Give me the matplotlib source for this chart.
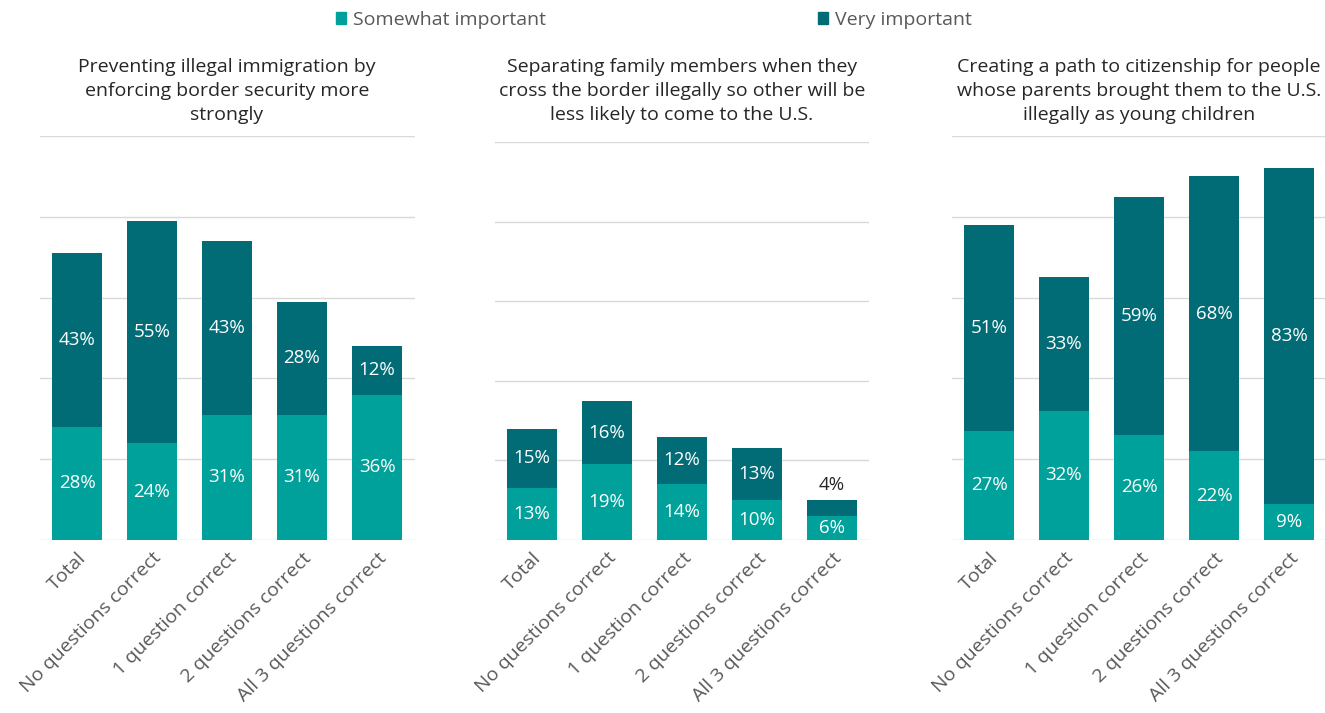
import matplotlib
matplotlib.use("Agg")
import matplotlib.pyplot as plt
from matplotlib.patches import Rectangle

plt.rcParams["font.family"] = ["Open Sans", "DejaVu Sans"]

SOMEWHAT_C = "#00a19a"
VERY_C = "#016c75"
GRID_C = "#d9d9d9"
TICK_C = "#595959"
FS = 14
VAL_FS = 13.5

groups = ["Total", "No questions correct", "1 question correct",
          "2 questions correct", "All 3 questions correct"]

titles = [
    "Preventing illegal immigration by\nenforcing border security more\nstrongly",
    "Separating family members when they\ncross the border illegally so other will be\nless likely to come to the U.S.",
    "Creating a path to citizenship for people\nwhose parents brought them to the U.S.\nillegally as young children",
]

border_somewhat = [28, 24, 31, 31, 36]
border_very = [43, 55, 43, 28, 12]
separating_somewhat = [13, 19, 14, 10, 6]
separating_very = [15, 16, 12, 13, 4]
citizenship_somewhat = [27, 32, 26, 22, 9]
citizenship_very = [51, 33, 59, 68, 83]

somewhat = [border_somewhat, separating_somewhat, citizenship_somewhat]
very = [border_very, separating_very, citizenship_very]

W, H = 1325, 713
fig = plt.figure(figsize=(W / 100, H / 100), dpi=100)

# panel boxes in pixels: left, baseline, width, height
boxes = [(39.5, 540, 375, 404), (494.5, 540, 375, 398), (951.5, 540, 375, 404)]

for i, (lx, base, w, h) in enumerate(boxes):
    ax = fig.add_axes([lx / W, (H - base) / H, w / W, h / H])
    x = range(len(groups))
    ax.bar(x, somewhat[i], width=0.66, color=SOMEWHAT_C, zorder=2)
    ax.bar(x, very[i], width=0.66, bottom=somewhat[i], color=VERY_C, zorder=2)
    for j, (s, v) in enumerate(zip(somewhat[i], very[i])):
        ax.text(j, s / 2, f"{s}%", ha="center", va="center", color="white",
                fontsize=VAL_FS, zorder=3)
        if v >= 8:
            ax.text(j, s + v / 2, f"{v}%", ha="center", va="center",
                    color="white", fontsize=VAL_FS, zorder=3)
        else:
            # too thin to hold its label, so it goes on top
            ax.text(j, s + v + 1.5, f"{v}%", ha="center", va="bottom",
                    color="#262626", fontsize=VAL_FS, zorder=3)
    ax.set_xlim(-0.5, len(groups) - 0.5)
    ax.set_ylim(0, 100)
    ax.set_yticks(range(0, 101, 20))
    ax.yaxis.grid(True, color=GRID_C, lw=1.0, zorder=0)
    ax.tick_params(axis="y", left=False, labelleft=False)
    ax.tick_params(axis="x", bottom=False, pad=3)
    ax.set_xticks(list(x))
    ax.set_xticklabels(groups, rotation=45, ha="right", va="top",
                       rotation_mode="anchor", fontsize=FS, color=TICK_C)
    for sp in ax.spines.values():
        sp.set_visible(False)
    fig.text((lx + w / 2) / W, 1 - 91 / H, titles[i], ha="center", va="center",
             fontsize=FS, color="#262626", linespacing=1.45)

# legend across the top
handles = [Rectangle((0, 0), 1, 1, color=SOMEWHAT_C),
           Rectangle((0, 0), 1, 1, color=VERY_C)]
fig.legend(handles[:1], ["Somewhat important"], loc="center left",
           bbox_to_anchor=(318 / W, 1 - 20 / H), frameon=False, fontsize=FS,
           handlelength=0.55, handleheight=0.55, handletextpad=0.35,
           labelcolor=TICK_C)
fig.legend(handles[1:], ["Very important"], loc="center left",
           bbox_to_anchor=(800 / W, 1 - 20 / H), frameon=False, fontsize=FS,
           handlelength=0.55, handleheight=0.55, handletextpad=0.35,
           labelcolor=TICK_C)

fig.savefig("out.png", dpi=100)
